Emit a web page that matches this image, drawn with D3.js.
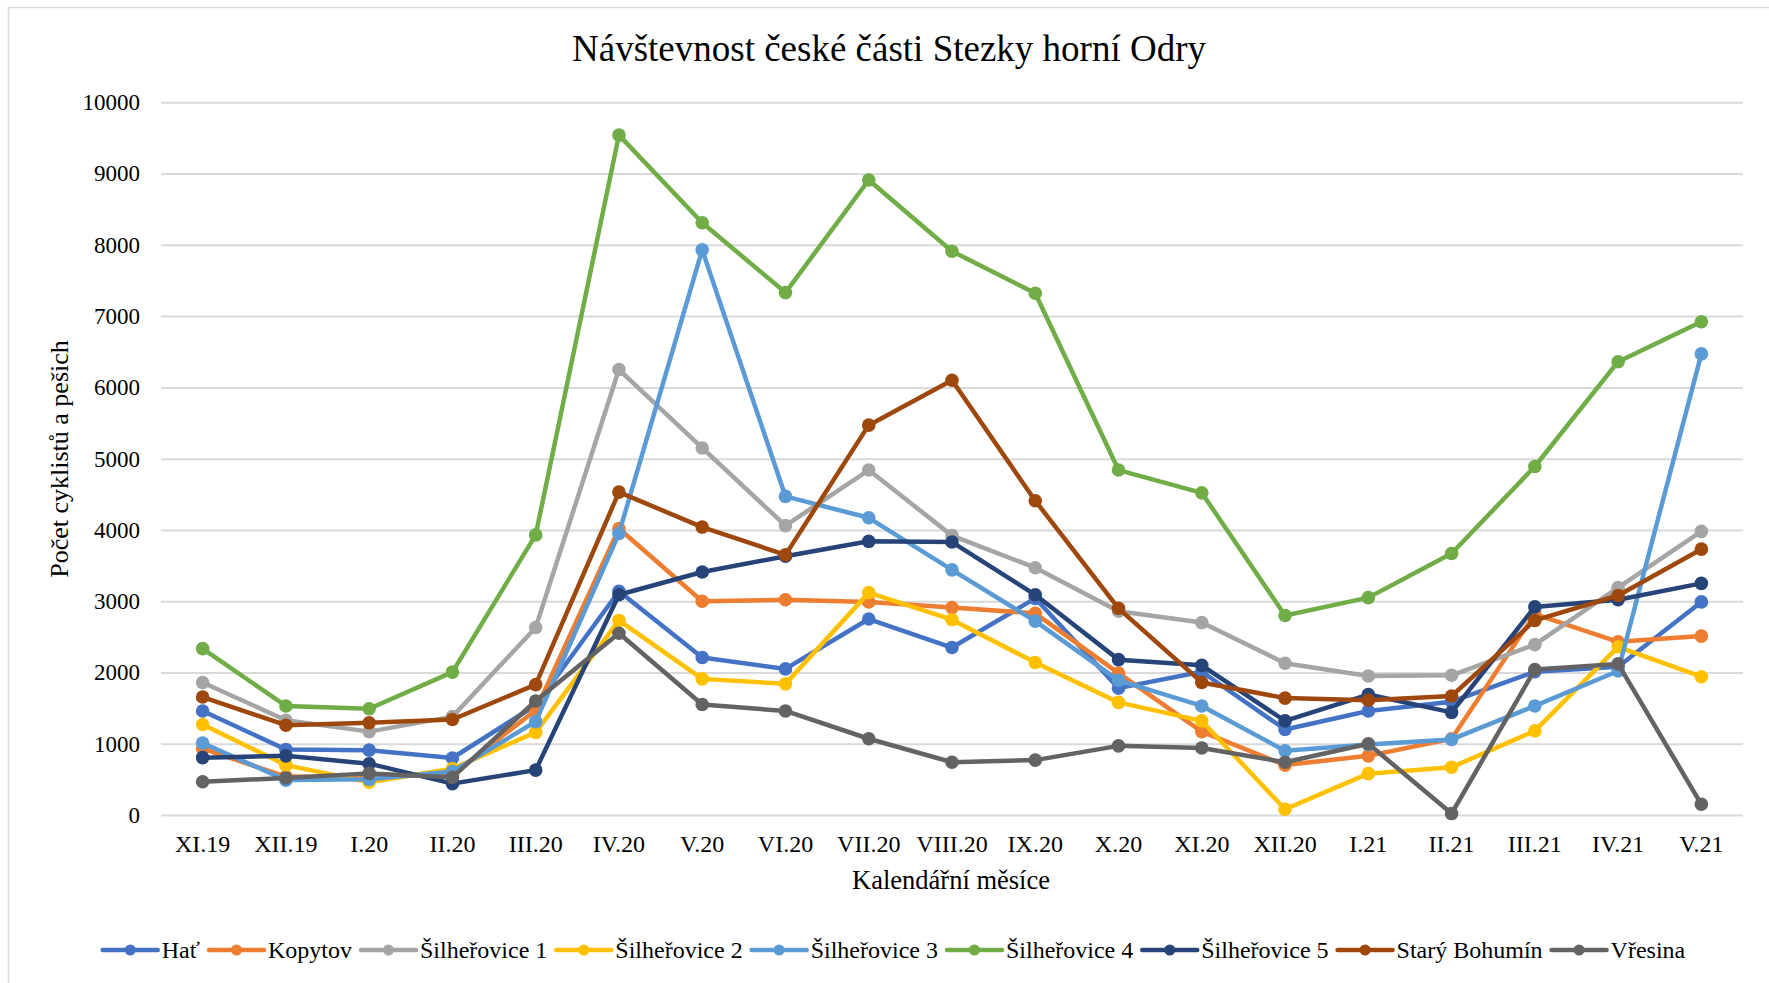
<!DOCTYPE html>
<html lang="cs">
<head>
<meta charset="utf-8">
<title>Návštevnost české části Stezky horní Odry</title>
<script src="https://cdn.jsdelivr.net/npm/d3@7"></script>
<style>
  html, body { margin: 0; padding: 0; background: #ffffff; }
  svg { display: block; }
  text { font-family: "Liberation Serif", "Times New Roman", serif; fill: #000000; }
</style>
</head>
<body>
<div id="chart"></div>
<script>
// Monthly counts of cyclists and pedestrians per counter location
const months = ["XI.19","XII.19","I.20","II.20","III.20","IV.20","V.20","VI.20","VII.20","VIII.20","IX.20","X.20","XI.20","XII.20","I.21","II.21","III.21","IV.21","V.21"];

const hat          = [1460, 920, 910, 800, 1540, 3140, 2210, 2050, 2750, 2350, 3040, 1780, 2010, 1200, 1460, 1590, 2010, 2080, 2990];
const kopytov      = [ 930, 540, 530, 570, 1470, 4020, 3000, 3020, 2990, 2910, 2830, 1990, 1170,  700,  830, 1070, 2820, 2430, 2510];
const silherovice1 = [1860, 1330, 1170, 1380, 2630, 6250, 5150, 4060, 4840, 3920, 3470, 2860, 2700, 2130, 1950, 1960, 2390, 3190, 3980];
const silherovice2 = [1270, 700, 460, 650, 1160, 2730, 1910, 1840, 3120, 2740, 2140, 1580, 1320,   80,  580,  670, 1180, 2360, 1940];
const silherovice3 = [1010, 490, 500, 610, 1310, 3950, 7930, 4470, 4170, 3440, 2720, 1890, 1530,  900,  990, 1060, 1530, 2020, 6470];
const silherovice4 = [2335, 1530, 1490, 2005, 3930, 9540, 8310, 7330, 8910, 7910, 7320, 4840, 4520, 2800, 3050, 3670, 4890, 6360, 6920];
const silherovice5 = [ 805, 830, 720, 440, 630, 3090, 3410, 3630, 3840, 3830, 3090, 2180, 2100, 1320, 1690, 1440, 2920, 3020, 3250];
const staryBohumin = [1655, 1260, 1295, 1340, 1830, 4530, 4040, 3650, 5470, 6100, 4410, 2900, 1860, 1640, 1610, 1670, 2730, 3080, 3730];
const vresina      = [ 467, 520, 584, 528, 1600, 2550, 1550, 1460, 1070, 740, 770, 970, 940, 740, 1000, 20, 2040, 2120, 150];

const seriesNames  = ["Hať", "Kopytov", "Šilheřovice 1", "Šilheřovice 2", "Šilheřovice 3", "Šilheřovice 4", "Šilheřovice 5", "Starý Bohumín", "Vřesina"];
const seriesValues = [hat, kopytov, silherovice1, silherovice2, silherovice3, silherovice4, silherovice5, staryBohumin, vresina];
const seriesColors = ["#4472C4", "#ED7D31", "#A5A5A5", "#FFC000", "#5B9BD5", "#70AD47", "#264478", "#9E480E", "#636363"];

const yTicks = [0, 1000, 2000, 3000, 4000, 5000, 6000, 7000, 8000, 9000, 10000];

const titleText = "Návštevnost české části Stezky horní Odry";
const xTitle = "Kalendářní měsíce";
const yTitle = "Počet cyklistů a pešich";

// Layout
const W = 1769, H = 983;
const plot = { left: 161, right: 1743, top: 102.3, bottom: 815 };

const svg = d3.select("#chart").append("svg")
  .attr("width", W).attr("height", H);

// Chart area frame
svg.append("rect")
  .attr("x", 8.5).attr("y", 7.5)
  .attr("width", W + 20).attr("height", H + 20)
  .attr("fill", "#ffffff").attr("stroke", "#d9d9d9").attr("stroke-width", 1.5);

const x = d3.scaleBand().domain(months).range([plot.left, plot.right]).paddingInner(0).paddingOuter(0);
const xc = m => x(m) + x.bandwidth() / 2;
const y = d3.scaleLinear().domain([0, 10000]).range([plot.bottom, plot.top]);

// Horizontal gridlines
const yAxis = d3.axisLeft(y).tickValues(yTicks).tickSize(-(plot.right - plot.left)).tickPadding(21).tickFormat(d3.format("d"));
const gy = svg.append("g").attr("transform", `translate(${plot.left},0)`).call(yAxis);
gy.select(".domain").remove();
gy.selectAll(".tick line").attr("stroke", "#d9d9d9").attr("stroke-width", 2);
gy.selectAll(".tick text")
  .attr("font-size", 23)
  .attr("font-family", "Liberation Serif, Times New Roman, serif")
  .attr("fill", "#000");

// Category axis labels
const xAxis = d3.axisBottom(x).tickSize(0).tickPadding(20);
const gx = svg.append("g").attr("transform", `translate(0,${plot.bottom})`).call(xAxis);
gx.select(".domain").remove();
gx.selectAll(".tick text")
  .attr("font-size", 24)
  .attr("font-family", "Liberation Serif, Times New Roman, serif")
  .attr("fill", "#000");

// Series lines and markers
const line = d3.line().x((d, i) => xc(months[i])).y(d => y(d));
seriesValues.forEach((vals, k) => {
  const g = svg.append("g").attr("class", "series");
  g.append("path")
    .datum(vals)
    .attr("d", line)
    .attr("fill", "none")
    .attr("stroke", seriesColors[k])
    .attr("stroke-width", 4.5)
    .attr("stroke-linejoin", "round")
    .attr("stroke-linecap", "round");
  g.selectAll("circle")
    .data(vals)
    .join("circle")
    .attr("cx", (d, i) => xc(months[i]))
    .attr("cy", d => y(d))
    .attr("r", 6.8)
    .attr("fill", seriesColors[k]);
});

// Title
svg.append("text")
  .attr("x", 889).attr("y", 61)
  .attr("text-anchor", "middle")
  .attr("font-size", 37)
  .text(titleText);

// Axis titles
svg.append("text")
  .attr("x", (plot.left + plot.right) / 2 - 1).attr("y", 889)
  .attr("text-anchor", "middle")
  .attr("font-size", 26.5)
  .text(xTitle);

svg.append("text")
  .attr("transform", "translate(68,459) rotate(-90)")
  .attr("text-anchor", "middle")
  .attr("font-size", 26)
  .text(yTitle);

// Legend
const legend = svg.append("g").attr("class", "legend");
const legY = 950, lineLen = 55, textGap = 4, itemGap = 9;
const items = seriesNames.map((name, k) => {
  const g = legend.append("g");
  g.append("line")
    .attr("x1", 0).attr("x2", lineLen)
    .attr("y1", 0).attr("y2", 0)
    .attr("stroke", seriesColors[k]).attr("stroke-width", 4.5)
    .attr("stroke-linecap", "round");
  g.append("circle").attr("cx", lineLen / 2).attr("cy", 0).attr("r", 5.5).attr("fill", seriesColors[k]);
  const t = g.append("text")
    .attr("x", lineLen + textGap).attr("y", 0).attr("dy", "0.33em")
    .attr("font-size", 24)
    .text(name);
  return { g, w: lineLen + textGap + t.node().getComputedTextLength() };
});
const totalW = d3.sum(items, d => d.w) + itemGap * (items.length - 1);
let cx = 894 - totalW / 2;
items.forEach(it => {
  it.g.attr("transform", `translate(${cx},${legY})`);
  cx += it.w + itemGap;
});
</script>
</body>
</html>
